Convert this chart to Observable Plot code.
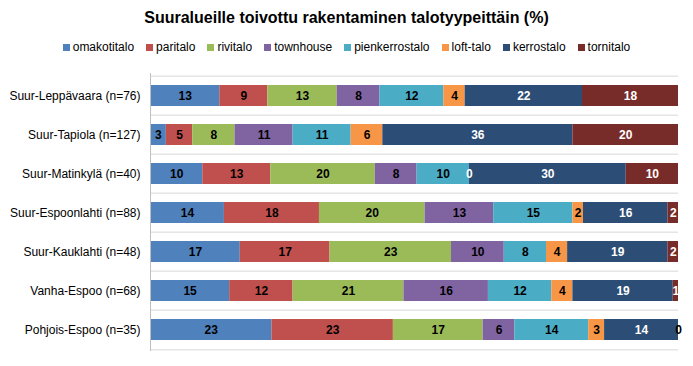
<!DOCTYPE html>
<html><head><meta charset="utf-8">
<script src="https://cdn.jsdelivr.net/npm/d3@7"></script>
<script src="https://cdn.jsdelivr.net/npm/@observablehq/plot@0.6"></script>
<style>
body{margin:0;background:#fff;font-family:Arial,"Liberation Sans",sans-serif;}
#wrap{position:relative;width:693px;height:366px;overflow:hidden;}
#title{position:absolute;left:0;top:8px;width:693px;text-align:center;font-weight:bold;font-size:16px;line-height:20px;color:#000;}
#legend{position:absolute;left:0;top:40px;width:693px;display:flex;justify-content:center;gap:12px;font-size:12px;line-height:14px;color:#000;}
#legend .it{display:flex;align-items:center;}
#legend .sw{width:7px;height:7px;margin-right:3px;}
#chart{position:absolute;left:0;top:60px;}
</style></head><body>
<div id="wrap">
<div id="title">Suuralueille toivottu rakentaminen talotyypeittäin (%)</div>
<div id="legend"></div>
<div id="chart"></div>
</div>
<script>
const regions = ["Suur-Leppävaara (n=76)","Suur-Tapiola (n=127)","Suur-Matinkylä (n=40)","Suur-Espoonlahti (n=88)","Suur-Kauklahti (n=48)","Vanha-Espoo (n=68)","Pohjois-Espoo (n=35)"];
const types = ["omakotitalo","paritalo","rivitalo","townhouse","pienkerrostalo","loft-talo","kerrostalo","tornitalo"];
const omakotitalo    = [13, 3, 10, 14, 17, 15, 23];
const paritalo       = [ 9, 5, 13, 18, 17, 12, 23];
const rivitalo       = [13, 8, 20, 20, 23, 21, 17];
const townhouse      = [ 8,11,  8, 13, 10, 16,  6];
const pienkerrostalo = [12,11, 10, 15,  8, 12, 14];
const lofttalo       = [ 4, 6,  0,  2,  4,  4,  3];
const kerrostalo     = [22,36, 30, 16, 19, 19, 14];
const tornitalo      = [18,20, 10,  2,  2,  1,  0];

const series = [omakotitalo,paritalo,rivitalo,townhouse,pienkerrostalo,lofttalo,kerrostalo,tornitalo];
const colors = ["#4F81BD","#C0504D","#9BBB59","#8064A2","#4BACC6","#F79646","#2C4D75","#772C2A"];

const table = [];
regions.forEach((r,i)=>types.forEach((t,j)=>table.push({region:r,type:t,value:series[j][i]})));

// legend
const leg = document.getElementById("legend");
types.forEach((t,j)=>{
  const it=document.createElement("div");it.className="it";
  const sw=document.createElement("span");sw.className="sw";sw.style.background=colors[j];
  it.appendChild(sw);it.appendChild(document.createTextNode(t));leg.appendChild(it);
});

const H=306, mt=13, mb=15;
const step=(H-mt-mb)/regions.length;
const dark=new Set(["kerrostalo","tornitalo"]);
const chart = Plot.plot({
  width:693, height:H,
  marginTop:mt, marginBottom:mb, marginLeft:150, marginRight:15,
  x:{axis:null, domain:[0,1]},
  y:{domain:regions, padding:0, label:null, tickSize:0, tickPadding:10},
  color:{domain:types, range:colors},
  style:{fontFamily:"Arial, 'Liberation Sans', sans-serif", fontSize:"12px", color:"#000", background:"#fff"},
  marks:[
    Plot.ruleY(regions,{y:d=>d, dy:-step/2, stroke:"#d9d9d9"}),
    Plot.ruleY([regions[regions.length-1]],{y:d=>d, dy:step/2, stroke:"#d9d9d9"}),
    Plot.barX(table, Plot.stackX({x:"value", y:"region", fill:"type", offset:"normalize", insetTop:9, insetBottom:9})),
    Plot.ruleX([0],{stroke:"#bfbfbf"}),
    Plot.text(table, Plot.stackX({x:"value", y:"region", z:"type", offset:"normalize",
      text:d=>String(d.value), fontWeight:"bold", fontSize:12,
      fill:d=> d.value===0 ? (d.type==="tornitalo"?"#000":"#fff") : (dark.has(d.type)?"#fff":"#000")}))
  ]
});
document.getElementById("chart").appendChild(chart);
</script>
</body></html>
